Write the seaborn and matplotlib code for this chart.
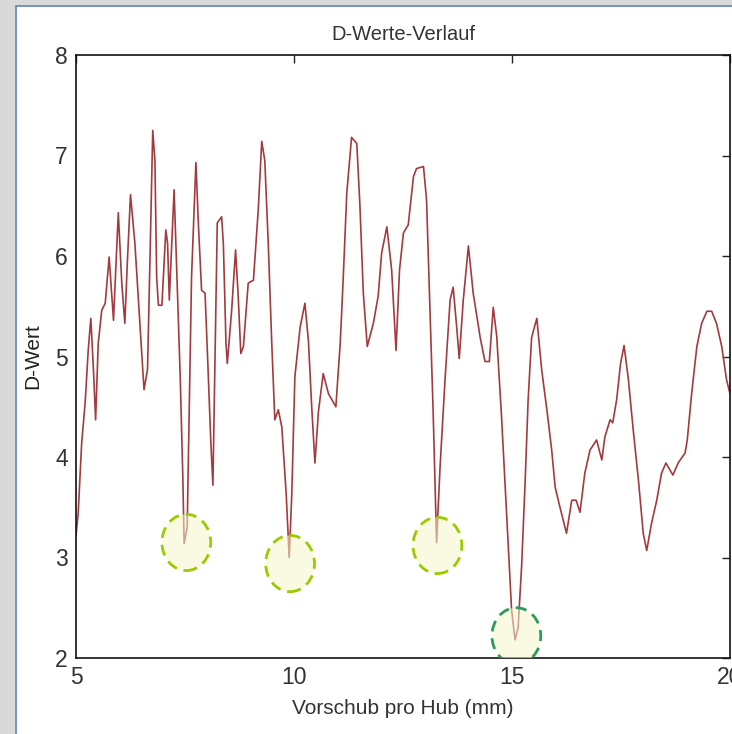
import numpy as np
import pandas as pd
import seaborn as sns
import matplotlib.pyplot as plt
from matplotlib.patches import Ellipse, Rectangle
from matplotlib.lines import Line2D

# feed per stroke (mm) and D-value
vorschub = [5.00, 5.05, 5.13, 5.21, 5.28, 5.34, 5.40, 5.45, 5.51, 5.59, 5.67, 5.76, 5.86, 5.97,
            6.05, 6.12, 6.18, 6.25, 6.35, 6.47, 6.56, 6.64, 6.70, 6.76, 6.81, 6.85, 6.89, 6.97,
            7.06, 7.10, 7.14, 7.25, 7.31, 7.39, 7.45, 7.48, 7.55, 7.60, 7.65, 7.75, 7.81, 7.88,
            7.96, 8.03, 8.09, 8.14, 8.19, 8.24, 8.34, 8.38, 8.44, 8.47, 8.57, 8.66, 8.72, 8.78,
            8.84, 8.95, 9.07, 9.18, 9.26, 9.33, 9.41, 9.49, 9.56, 9.64, 9.72, 9.82, 9.89, 9.95,
            10.02, 10.14, 10.25, 10.33, 10.41, 10.48, 10.56, 10.67, 10.79, 10.96, 11.06, 11.13,
            11.21, 11.32, 11.44, 11.51, 11.59, 11.68, 11.82, 11.93, 12.01, 12.13, 12.24, 12.34,
            12.42, 12.51, 12.62, 12.74, 12.81, 12.97, 13.04, 13.12, 13.19, 13.27, 13.35, 13.46,
            13.58, 13.65, 13.73, 13.79, 13.88, 14.00, 14.11, 14.27, 14.38, 14.48, 14.57, 14.65,
            14.76, 14.84, 14.92, 14.99, 15.07, 15.14, 15.22, 15.30, 15.37, 15.45, 15.57, 15.68,
            15.80, 15.91, 15.99, 16.10, 16.25, 16.37, 16.47, 16.56, 16.67, 16.79, 16.94, 17.06,
            17.13, 17.25, 17.31, 17.40, 17.49, 17.57, 17.67, 17.78, 17.90, 18.01, 18.09, 18.20,
            18.32, 18.43, 18.53, 18.69, 18.81, 18.97, 19.02, 19.12, 19.24, 19.35, 19.47, 19.58,
            19.69, 19.81, 19.92, 20.00]
d_wert = [3.22, 3.44, 4.14, 4.54, 5.06, 5.38, 4.87, 4.37, 5.13, 5.46, 5.53, 5.99, 5.36, 6.43,
          5.73, 5.33, 5.96, 6.61, 6.13, 5.29, 4.67, 4.87, 6.03, 7.25, 6.95, 5.79, 5.51, 5.51,
          6.26, 6.13, 5.56, 6.66, 5.86, 4.80, 3.80, 3.14, 3.30, 4.54, 5.79, 6.93, 6.29, 5.66,
          5.63, 4.86, 4.17, 3.72, 5.00, 6.33, 6.39, 6.12, 5.13, 4.93, 5.46, 6.06, 5.60, 5.03,
          5.10, 5.73, 5.76, 6.46, 7.14, 6.95, 6.12, 5.13, 4.37, 4.47, 4.30, 3.64, 3.00, 3.64,
          4.80, 5.29, 5.53, 5.16, 4.47, 3.94, 4.45, 4.83, 4.63, 4.50, 5.13, 5.79,
          6.62, 7.18, 7.12, 6.52, 5.63, 5.10, 5.33, 5.60, 6.03, 6.29, 5.86, 5.06,
          5.86, 6.23, 6.31, 6.79, 6.87, 6.89, 6.56, 5.46, 4.47, 3.15, 3.90, 4.74,
          5.56, 5.69, 5.30, 4.98, 5.55, 6.10, 5.63, 5.19, 4.95, 4.95, 5.49, 5.20,
          4.40, 3.74, 3.07, 2.48, 2.18, 2.30, 2.91, 3.74, 4.57, 5.19, 5.38, 4.87,
          4.47, 4.07, 3.70, 3.50, 3.24, 3.57, 3.57, 3.45, 3.84, 4.07, 4.17, 3.97,
          4.20, 4.37, 4.34, 4.57, 4.93, 5.11, 4.77, 4.27, 3.77, 3.24, 3.07, 3.34,
          3.57, 3.84, 3.94, 3.82, 3.94, 4.04, 4.17, 4.63, 5.10, 5.33, 5.45, 5.45,
          5.33, 5.10, 4.77, 4.63]

# highlighted minima
min_x = [7.53, 9.91, 13.29, 15.10]
min_y = [3.15, 2.94, 3.12, 2.22]
min_farbe = ['#99cc00', '#99cc00', '#99cc00', '#2a9a5e']

df = pd.DataFrame({'x': vorschub, 'y': d_wert})

sns.set_theme(style='white')
plt.rcParams['font.family'] = ['Liberation Sans', 'DejaVu Sans']

fig = plt.figure(figsize=(7.32, 7.34), dpi=100)
ax = fig.add_axes([76 / 732, 76 / 734, 654 / 732, 603 / 734])

sns.lineplot(data=df, x='x', y='y', ax=ax, color='#a33a3e', linewidth=1.2,
             estimator=None, sort=False)

for mx, my, c in zip(min_x, min_y, min_farbe):
    ax.add_patch(Ellipse((mx, my), 1.12, 0.56, facecolor=(0.97, 0.97, 0.80, 0.55),
                         edgecolor=c, linewidth=2.0, linestyle=(0, (4, 2.5)), zorder=5))

ax.set_xlim(5, 20)
ax.set_ylim(2, 8)
ax.set_xticks([5, 10, 15, 20])
ax.set_yticks([2, 3, 4, 5, 6, 7, 8])
ax.tick_params(direction='in', length=6, width=1, colors='#222222', labelsize=16.5,
               top=True, right=True, pad=6)
ax.tick_params(axis='x', labelcolor='#333333')
ax.tick_params(axis='y', labelcolor='#333333')
for s in ax.spines.values():
    s.set_color('#111111')
    s.set_linewidth(1.2)

ax.set_title('D-Werte-Verlauf', fontsize=14.5, color='#333333', pad=11)
ax.set_xlabel('Vorschub pro Hub (mm)', fontsize=15, color='#333333', labelpad=7)
ax.set_ylabel('D-Wert', fontsize=15, color='#222222', labelpad=9)

# screenshot frame
fig.add_artist(Rectangle((0, 0), 15 / 732, 1, transform=fig.transFigure,
                         facecolor='#d9d9d9', edgecolor='none'))
fig.add_artist(Rectangle((0, 1 - 5 / 734), 1, 5 / 734, transform=fig.transFigure,
                         facecolor='#d9d9d9', edgecolor='none'))
fig.add_artist(Line2D([16 / 732, 16 / 732], [0, 1 - 5.5 / 734], transform=fig.transFigure,
                      color='#5b80b8', linewidth=1.2))
fig.add_artist(Line2D([16 / 732, 1], [1 - 6 / 734, 1 - 6 / 734], transform=fig.transFigure,
                      color='#5b80b8', linewidth=1.2))

fig.savefig('out.png', dpi=100)
